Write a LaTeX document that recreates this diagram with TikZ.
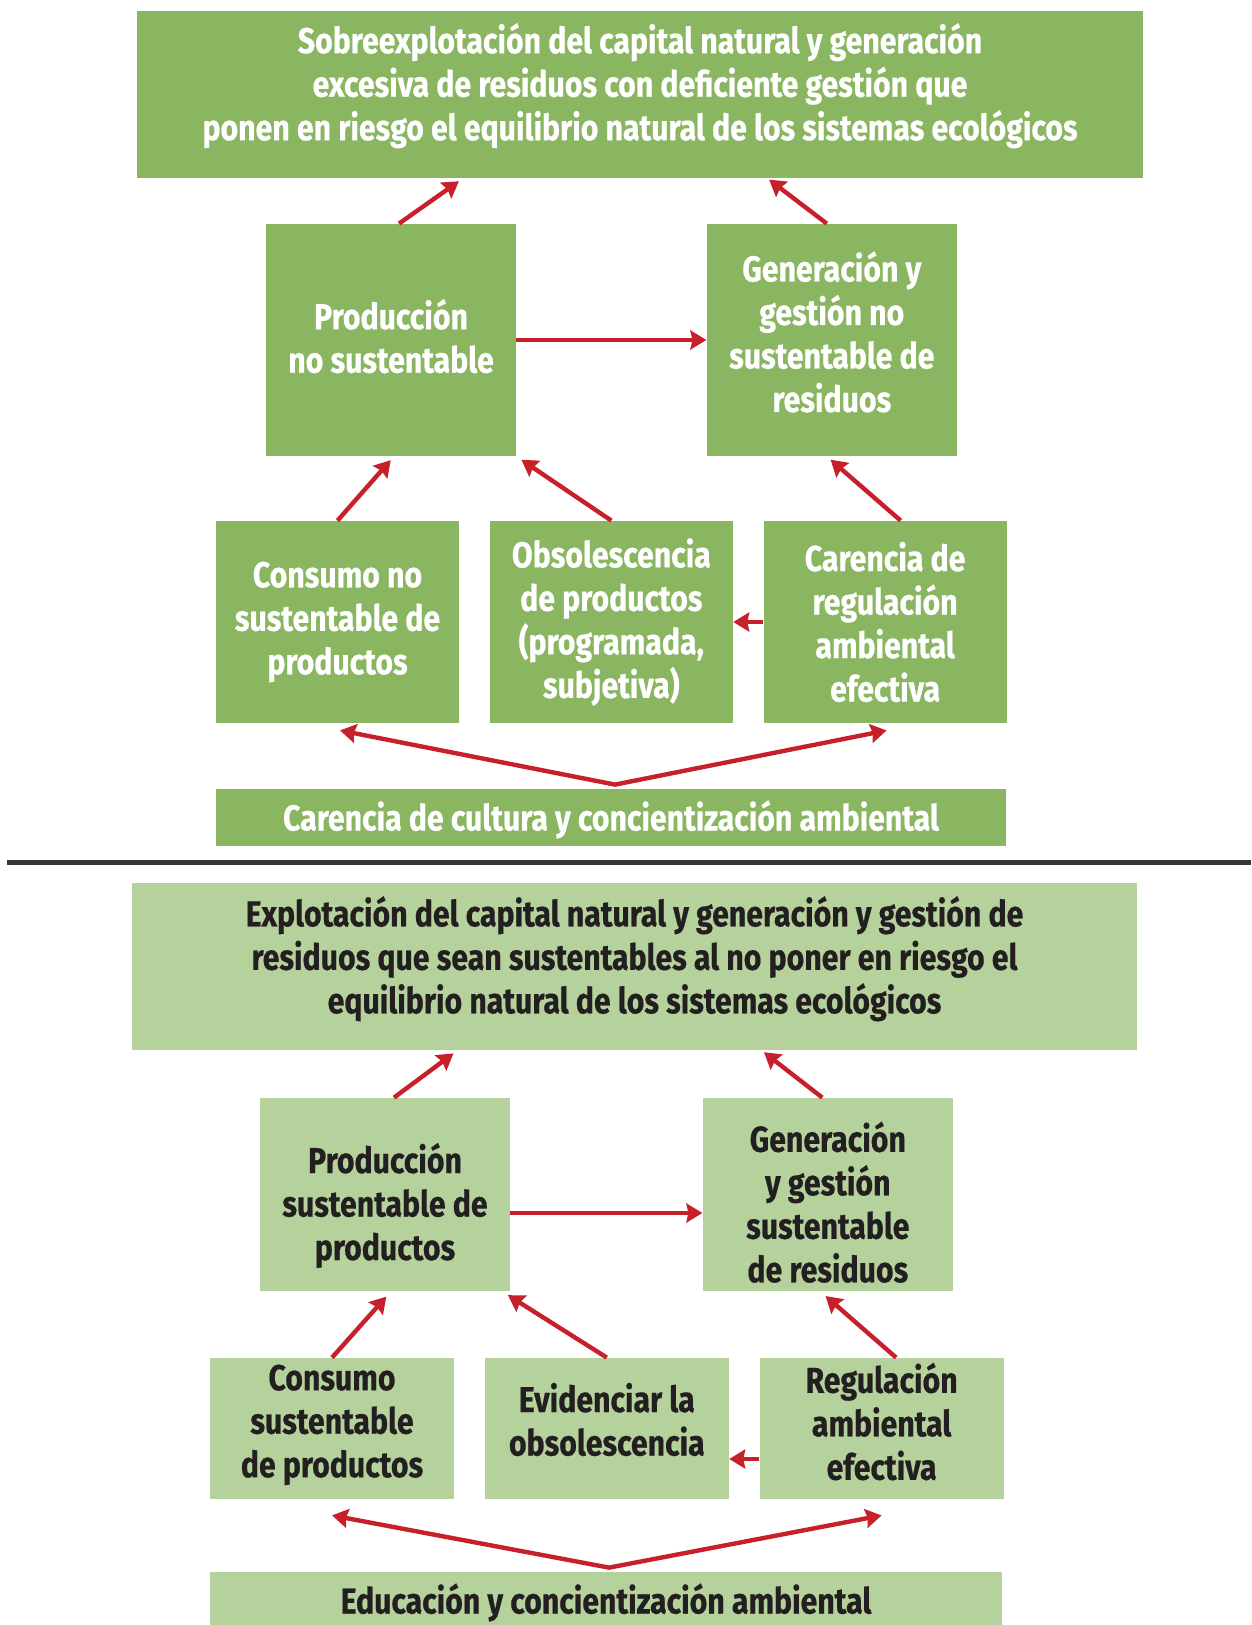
\documentclass[tikz,border=0pt]{standalone}
\usepackage{fontspec}
\setmainfont{Fira Sans}[FakeStretch=0.84, BoldFeatures={FakeBold=0.5}]
\usetikzlibrary{arrows.meta, positioning}
\definecolor{verdeo}{HTML}{8AB662}
\definecolor{verdec}{HTML}{B5D29C}
\definecolor{rojo}{HTML}{C8202A}
\definecolor{gris}{HTML}{3A3533}
\definecolor{tinta}{HTML}{231F20}
% puntales invisibles para subir o bajar el texto dentro de la caja
\newcommand{\abajo}[1]{\rule[-#1]{0pt}{#1}}
\newcommand{\arriba}[1]{\rule{0pt}{#1}}

\begin{document}
\begin{tikzpicture}[x=0.5pt, y=-0.5pt, >={Stealth[length=8pt, width=9.5pt, inset=1pt]}]
    \tikzstyle{box}=[inner sep=0pt, align=center, font=\bfseries\fontsize{18}{21.75}\selectfont]
    \tikzstyle{dbox}=[box, fill=verdeo, text=white]
    \tikzstyle{lbox}=[box, fill=verdec, text=tinta]
    \tikzstyle{arr}=[->, draw=rojo, line width=2.2pt]

    \useasboundingbox (0,0) rectangle (1251,1625);

    % situacion actual
    \node[dbox, minimum width=503pt, minimum height=83.5pt] (top1) at (640,94.5)
        {Sobreexplotación del capital natural y generación\\ excesiva de residuos con deficiente gestión que\\ ponen en riesgo el equilibrio natural de los sistemas ecológicos\abajo{12.8pt}};
    \node[dbox, minimum width=125pt, minimum height=116pt] (prod1) at (391,340) {Producción\\ no sustentable\abajo{4.1pt}};
    \node[dbox, minimum width=125pt, minimum height=116pt, right=95pt of prod1] (gen1) {Generación y\\ gestión no\\ sustentable de\\ residuos\abajo{8.3pt}};
    \node[dbox, minimum width=121.5pt, minimum height=101pt] (cons1) at (337.5,622) {Consumo no\\ sustentable de\\ productos};
    \node[dbox, minimum width=121.5pt, minimum height=101pt, right=15pt of cons1] (obs1) {Obsolescencia\\ de productos\\ (programada,\\ subjetiva)};
    \node[dbox, minimum width=121.5pt, minimum height=101pt, right=15pt of obs1] (car1) {Carencia de\\ regulación\\ ambiental\\ efectiva};
    \node[dbox, minimum width=395pt, minimum height=28.5pt] (bar1) at (611,817.5) {\arriba{17pt}Carencia de cultura y concientización ambiental};

    \draw[arr, shorten >=2.5pt] ([xshift=4pt]prod1.north) -- ([xshift=-88.5pt]top1.south);
    \draw[arr, shorten >=1pt] ([xshift=-2.5pt]gen1.north) -- ([xshift=63.75pt]top1.south);
    \draw[arr] (prod1.east) -- (gen1.west);
    \draw[arr, shorten >=2.5pt] (cons1.north) -- ([xshift=1.5pt]prod1.south);
    \draw[arr, shorten >=3pt] (obs1.north) -- (prod1.south east);
    \draw[arr, shorten >=2.5pt] ([xshift=7.75pt]car1.north) -- ([xshift=-2.5pt]gen1.south);
    \draw[arr] (car1.west) -- (obs1.east);
    \draw[arr, <->] ([xshift=1.25pt, yshift=-3.5pt]cons1.south) -- ([xshift=2pt, yshift=2pt]bar1.north) -- ([xshift=0.75pt, yshift=-3.5pt]car1.south);

    % separador
    \draw[gris, line width=2.5pt] (7,862) -- (1251,862);

    % situacion deseada
    \node[lbox, minimum width=502.5pt, minimum height=83.5pt] (top2) at (634.5,966.5)
        {Explotación del capital natural y generación y gestión de\\ residuos que sean sustentables al no poner en riesgo el\\ equilibrio natural de los sistemas ecológicos\abajo{11.7pt}};
    \node[lbox, minimum width=125pt, minimum height=96.5pt] (prod2) at (385,1194.5) {\arriba{26pt}Producción\\ sustentable de\\ productos};
    \node[lbox, minimum width=125pt, minimum height=96.5pt, right=96pt of prod2] (gen2) {\arriba{22.8pt}Generación\\ y gestión\\ sustentable\\ de residuos};
    \node[lbox, minimum width=122pt, minimum height=70.5pt] (cons2) at (332,1428.5) {Consumo\\ sustentable\\ de productos\abajo{7.6pt}};
    \node[lbox, minimum width=122pt, minimum height=70.5pt, right=15pt of cons2] (evid2) {Evidenciar la\\ obsolescencia\abajo{9.3pt}};
    \node[lbox, minimum width=122pt, minimum height=70.5pt, right=15pt of evid2] (reg2) {Regulación\\ ambiental\\ efectiva\abajo{7.25pt}};
    \node[lbox, minimum width=396pt, minimum height=28.5pt] (bar2) at (606,1600.5) {\arriba{17pt}Educación y concientización ambiental};

    \draw[arr, shorten >=2.5pt] ([xshift=4.5pt]prod2.north) -- ([xshift=-88.5pt]top2.south);
    \draw[arr, shorten >=1.5pt] ([xshift=-2.75pt]gen2.north) -- ([xshift=63.5pt]top2.south);
    \draw[arr] ([yshift=-9.25pt]prod2.east) -- ([yshift=-9.25pt]gen2.west);
    \draw[arr, shorten >=3.5pt] (cons2.north) -- ([xshift=3pt]prod2.south);
    \draw[arr, shorten >=3.5pt] (evid2.north) -- ([xshift=58.5pt]prod2.south);
    \draw[arr, shorten >=3.5pt] ([xshift=7.25pt]reg2.north) -- ([xshift=-3.75pt]gen2.south);
    \draw[arr] ([yshift=-15.25pt]reg2.west) -- ([yshift=-15.25pt]evid2.east);
    \draw[arr, <->] ([yshift=-8pt]cons2.south) -- ([xshift=1.5pt, yshift=2pt]bar2.north) -- ([yshift=-8pt]reg2.south);
\end{tikzpicture}
\end{document}
